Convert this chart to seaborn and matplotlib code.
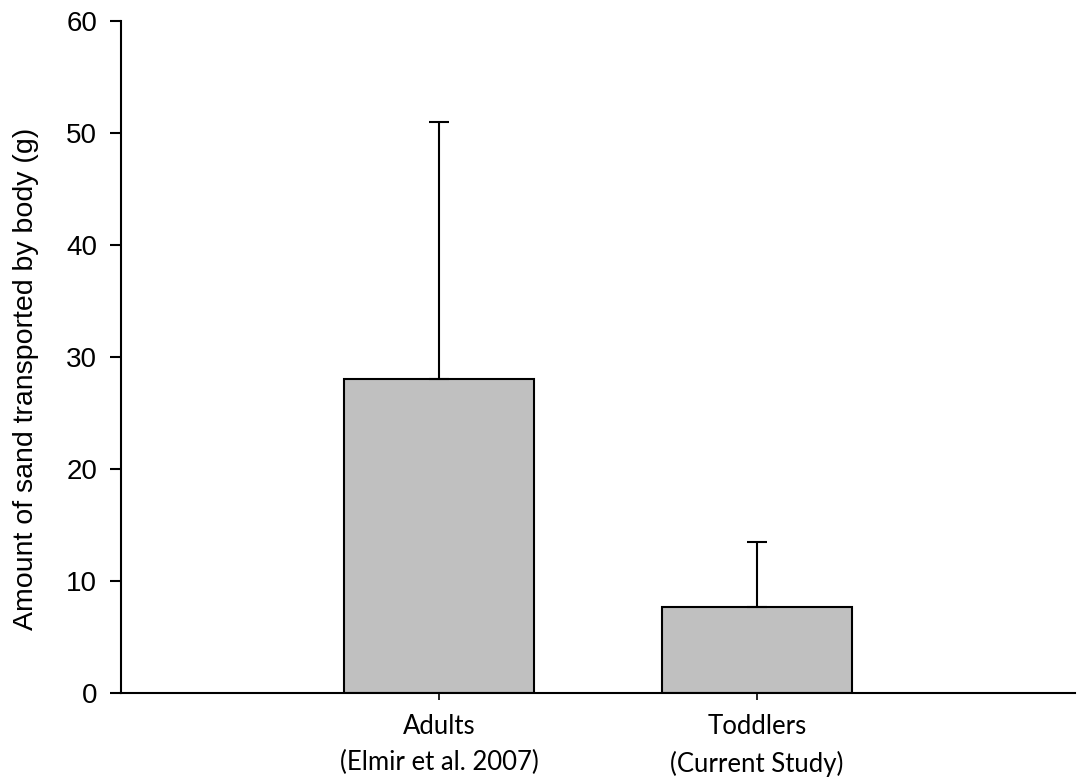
import matplotlib
matplotlib.use("Agg")
import matplotlib.pyplot as plt
import seaborn as sns
import pandas as pd

sns.set_theme(style="white")
plt.rcParams["font.family"] = ["Liberation Sans", "DejaVu Sans"]
plt.rcParams["text.color"] = "black"
plt.rcParams["axes.labelcolor"] = "black"
plt.rcParams["xtick.color"] = "black"
plt.rcParams["ytick.color"] = "black"

GRUPOS = ["Adults\n(Elmir et al. 2007)", "Toddlers\n(Current Study)"]
MEDIAS = [28.0, 7.7]
ERROS_SUP = [23.0, 5.8]

df = pd.DataFrame({"grupo": GRUPOS, "areia": MEDIAS})

fig = plt.figure(figsize=(10.78, 7.79), dpi=100)
ax = fig.add_axes([0.1122, 0.1104, 0.8850, 0.8626])

sns.barplot(data=df, x="grupo", y="areia", color="#c0c0c0", saturation=1,
            width=0.6, edgecolor="black", linewidth=1.5, errorbar=None, ax=ax)

ax.errorbar(range(len(GRUPOS)), MEDIAS,
            yerr=[[0] * len(ERROS_SUP), ERROS_SUP],
            fmt="none", ecolor="black", elinewidth=1.5, capsize=7.5, capthick=1.5)

ax.set_xlim(-1, 2)
ax.set_ylim(0, 60)
ax.set_yticks([0, 10, 20, 30, 40, 50, 60])
ax.set_xlabel("")
ax.set_ylabel("Amount of sand transported by body (g)", fontsize=20.5)
ax.yaxis.set_label_coords(-0.086, 0.467)

sns.despine(ax=ax)
for lado in ["left", "bottom"]:
    ax.spines[lado].set_color("black")
    ax.spines[lado].set_linewidth(1.5)

ax.tick_params(axis="y", direction="out", length=8, width=1.5, colors="black",
               labelsize=20, pad=9, left=True)
ax.tick_params(axis="x", direction="out", length=5, width=1.2, colors="black",
               pad=10, bottom=True)
for rotulo in ax.get_xticklabels():
    rotulo.set_fontfamily(["Lato", "DejaVu Sans"])
    rotulo.set_fontsize(18.5)
    rotulo.set_linespacing(1.55)

fig.savefig("out.png", dpi=100)
